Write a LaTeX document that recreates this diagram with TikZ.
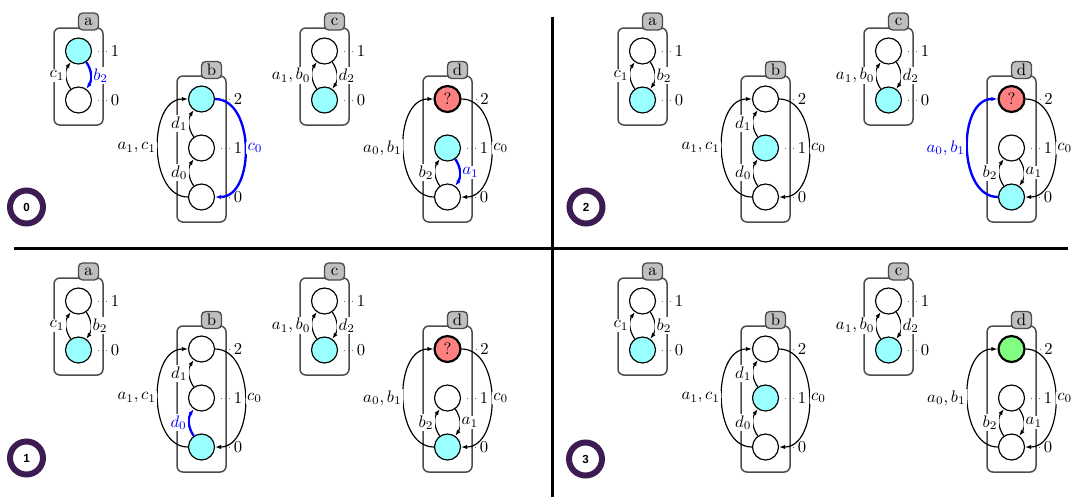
\documentclass[tikz,border=0pt]{standalone}
\usepackage{fontspec}
\newfontfamily\numfont{Liberation Sans}
\usetikzlibrary{arrows.meta}
\definecolor{ringc}{RGB}{60,28,82}
\definecolor{curc}{RGB}{153,255,255}
\definecolor{badc}{RGB}{255,128,128}
\definecolor{goodc}{RGB}{128,255,128}
\definecolor{hlc}{RGB}{0,0,255}
\tikzset{
 st/.style={circle,draw,line width=0.7pt,minimum size=15.6pt,inner sep=0pt,fill=white},
 cur/.style={fill=curc},
 bad/.style={fill=badc,line width=1.3pt},
 good/.style={fill=goodc,line width=1.3pt},
 cbox/.style={draw=black!70,line width=0.9pt,rounded corners=3.5pt},
 tag/.style={draw=black!70,fill=black!25,line width=0.8pt,rounded corners=2.5pt,minimum width=12pt,minimum height=10.2pt,inner sep=0pt},
 tr/.style={-{Latex[length=3.6pt,width=2.6pt]},line width=0.7pt},
 hl/.style={hlc,line width=1.4pt},
 lbl/.style={fill=white,inner sep=0.8pt},
 pinl/.style={dotted,draw=black!60,line width=0.5pt},
 pinlab/.style={inner sep=0.8pt,anchor=west},
 ring/.style={circle,draw=ringc,line width=3.6pt,fill=white,minimum size=19.8pt,inner sep=0pt,font=\numfont\bfseries\fontsize{7}{8}\selectfont},
 divider/.style={line width=1.5pt},
 Sa0/.style={},Sa1/.style={},Sb0/.style={},Sb1/.style={},Sb2/.style={},
 Sc0/.style={},Sc1/.style={},Sd0/.style={},Sd1/.style={},Sd2/.style={},
 Eac1/.style={},Eab2/.style={},Ebd1/.style={},Ebd0/.style={},Eba1c1/.style={},Ebc0/.style={},
 Eca1b0/.style={},Ecd2/.style={},Eda0b1/.style={},Edc0/.style={},Edb2/.style={},Eda1/.style={}
}
\def\dq{?}
\newcommand\drawsys[1]{%
 \draw[cbox] (54,-28) rectangle (103,-125);
 \draw[cbox] (177,-76) rectangle (226,-222);
 \draw[cbox] (300,-28) rectangle (349,-125);
 \draw[cbox] (423,-76) rectangle (472,-222);
 \node[tag] (#1ta) at (88.5,-21.5) {a};
 \node[tag] (#1tb) at (211.5,-70) {b};
 \node[tag] (#1tc) at (334.5,-21.5) {c};
 \node[tag] (#1td) at (457.5,-70) {d};
 \node[st,Sa1] (#1a1) at (78.5,-51) {};
 \node[st,Sa0] (#1a0) at (78.5,-100) {};
 \node[st,Sb2] (#1b2) at (201.5,-99) {};
 \node[st,Sb1] (#1b1) at (201.5,-148) {};
 \node[st,Sb0] (#1b0) at (201.5,-197) {};
 \node[st,Sc1] (#1c1) at (324.5,-51) {};
 \node[st,Sc0] (#1c0) at (324.5,-100) {};
 \node[st,Sd2] (#1d2) at (447.5,-99) {\dq};
 \node[st,Sd1] (#1d1) at (447.5,-148) {};
 \node[st,Sd0] (#1d0) at (447.5,-197) {};
 \draw[tr,Eac1] (#1a0) to[bend left=35] node[lbl,left]{$c_1$} (#1a1);
 \draw[tr,Eab2] (#1a1) to[bend left=35] node[lbl,right]{$b_2$} (#1a0);
 \draw[tr,Ebd1] (#1b1) to[bend left=35] node[lbl,left]{$d_1$} (#1b2);
 \draw[tr,Ebd0] (#1b0) to[bend left=35] node[lbl,left]{$d_0$} (#1b1);
 \draw[tr,Eba1c1] (#1b0) to[out=180,in=180,looseness=1.05] node[lbl,left]{$a_1,c_1$} (#1b2);
 \draw[tr,Ebc0] (#1b2) to[out=0,in=0,looseness=1.05] node[lbl,right]{$c_0$} (#1b0);
 \draw[tr,Eca1b0] (#1c0) to[bend left=35] node[lbl,left]{$a_1,b_0$} (#1c1);
 \draw[tr,Ecd2] (#1c1) to[bend left=35] node[lbl,right]{$d_2$} (#1c0);
 \draw[tr,Eda0b1] (#1d0) to[out=180,in=180,looseness=1.05] node[lbl,left]{$a_0,b_1$} (#1d2);
 \draw[tr,Edc0] (#1d2) to[out=0,in=0,looseness=1.05] node[lbl,right]{$c_0$} (#1d0);
 \draw[tr,Edb2] (#1d0) to[bend left=35] node[lbl,left]{$b_2$} (#1d1);
 \draw[tr,Eda1] (#1d1) to[bend left=35] node[lbl,right]{$a_1$} (#1d0);
 \foreach \s/\t in {a1/1,a0/0,b2/2,b1/1,b0/0,c1/1,c0/0,d2/2,d1/1,d0/0}{%
   \draw[pinl] (#1\s.east) ++(6,0) -- ++(11,0) node[pinlab] (#1l\s) {\t};}%
}
\begin{document}
\begin{tikzpicture}[x=0.6pt,y=0.6pt]
\useasboundingbox (0,0) rectangle (1073,-497);
\draw[divider] (14,-248.5) -- (1068,-248.5);
\draw[divider] (552.5,-17) -- (552.5,-497);
% step 0
\begin{scope}[Sa1/.style=cur,Sb2/.style=cur,Sc0/.style=cur,Sd1/.style=cur,Sd2/.style=bad,
  Eab2/.style=hl,Ebc0/.style=hl,Eda1/.style=hl]
 \drawsys{p}
\end{scope}
% step 1
\begin{scope}[shift={(0,-250)},Sa0/.style=cur,Sb0/.style=cur,Sc0/.style=cur,Sd0/.style=cur,Sd2/.style=bad,
  Ebd0/.style=hl]
 \drawsys{q}
\end{scope}
% step 2
\begin{scope}[shift={(564,0)},Sa0/.style=cur,Sb1/.style=cur,Sc0/.style=cur,Sd0/.style=cur,Sd2/.style=bad,
  Eda0b1/.style=hl]
 \drawsys{r}
\end{scope}
% step 3
\begin{scope}[shift={(564,-250)},Sa0/.style=cur,Sb1/.style=cur,Sc0/.style=cur,Sd2/.style=good]
 \def\dq{}
 \drawsys{s}
\end{scope}
\node[ring] (num0) at (26.5,-207) {0};
\node[ring] (num1) at (26.5,-458) {1};
\node[ring] (num2) at (586,-207) {2};
\node[ring] (num3) at (585.5,-459) {3};
\end{tikzpicture}
\end{document}
